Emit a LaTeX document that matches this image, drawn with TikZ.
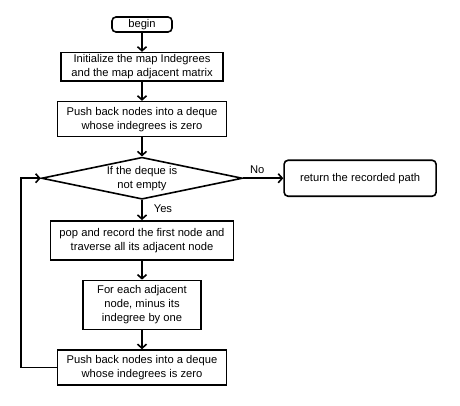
\documentclass[tikz,border=0pt]{standalone}
\usepackage{fontspec}
\setmainfont{Liberation Sans}
\usetikzlibrary{positioning,shapes.geometric,arrows.meta}

\tikzset{boite/.style = {draw, line width=1.6pt, align=center, inner sep=2pt,
                         font=\fontsize{11.2}{14}\selectfont},
         boiteronde/.style = {boite, rounded corners=4pt},
         losange/.style = {boite, diamond, inner sep=0pt, shape aspect=4.6,
                           minimum width=201pt, minimum height=42pt},
         fleche/.style = {line width=1.6pt, -{Straight Barb[length=4pt,width=9pt]}},
         etiquette/.style = {font=\fontsize{11.2}{14}\selectfont, inner sep=1pt}
        }

\begin{document}
\begin{tikzpicture}[node distance=19pt, x=1pt, y=1pt]
  \useasboundingbox (0,0) rectangle (460,-406);
  \node[boiteronde, minimum width=60pt, minimum height=15pt] (debut) at (142,-24.5) {begin};
  \node[boite, minimum width=162pt, minimum height=26pt, below=of debut] (init)
       {Initialize the map Indegrees\\and the map adjacent matrix};
  \node[boite, minimum width=169pt, minimum height=35pt, below=of init] (pousse1)
       {Push back nodes into a deque\\whose indegrees is zero};
  \node[losange, below=of pousse1] (deque) {If the deque is\\not empty};
  \node[boiteronde, minimum width=152pt, minimum height=36pt, right=40pt of deque] (retour)
       {return the recorded path};
  \node[boite, minimum width=183pt, minimum height=39pt, below=20pt of deque] (pop)
       {pop and record the first node and\\traverse all its adjacent node};
  \node[boite, minimum width=118pt, minimum height=49pt, below=of pop] (chaque)
       {For each adjacent\\node, minus its\\indegree by one};
  \node[boite, minimum width=169pt, minimum height=35pt, below=of chaque] (pousse2)
       {Push back nodes into a deque\\whose indegrees is zero};
  \coordinate[left=20pt of deque.west] (boucle);

  \draw[fleche] (debut) -- (init);
  \draw[fleche] (init) -- (pousse1);
  \draw[fleche] (pousse1) -- (deque);
  \draw[fleche] (deque) -- node[etiquette, pos=0.35, above=3pt] {No} (retour);
  \draw[fleche] (deque) -- node[etiquette, pos=0.45, right=10pt] {Yes} (pop);
  \draw[fleche] (pop) -- (chaque);
  \draw[fleche] (chaque) -- (pousse2);
  \draw[fleche] (pousse2.west) -| (boucle) -- (deque.west);
\end{tikzpicture}
\end{document}
